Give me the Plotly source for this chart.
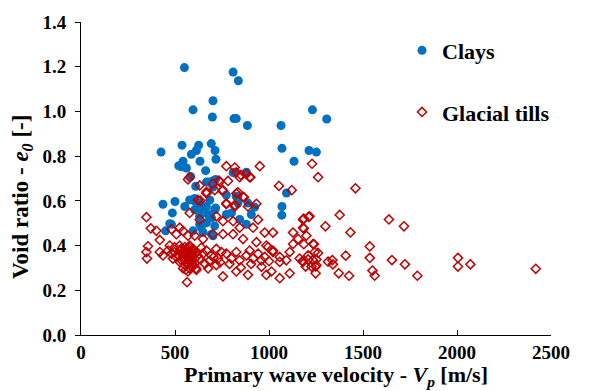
import plotly.graph_objects as go

# Clays: primary wave velocity [m/s] and void ratio [-]
clay_vp = [550, 809, 837, 702, 596, 699, 814, 826, 885, 1064, 1231, 1307,
           1213, 1252, 1069, 1133, 1093, 1069, 1068, 426, 537, 626, 614, 587,
           693, 713, 718, 633, 543, 520, 534, 561, 663, 583, 809, 878, 681,
           702, 716, 610, 773, 834, 888, 924, 436, 500, 552, 596, 614, 605,
           716, 486, 605, 667, 702, 631, 640, 667, 685, 481, 631, 667, 694,
           631, 676, 596, 640, 694, 472, 450, 578, 622, 649, 711, 711, 702,
           773, 800, 826, 844, 880, 906, 835, 818, 880]
clay_e = [1.196, 1.176, 1.137, 1.048, 1.007, 0.975, 0.968, 0.968, 0.937, 0.937,
          1.007, 0.966, 0.825, 0.818, 0.835, 0.777, 0.635, 0.575, 0.536, 0.818,
          0.849, 0.849, 0.825, 0.808, 0.856, 0.825, 0.786, 0.777, 0.777, 0.757,
          0.752, 0.747, 0.735, 0.709, 0.726, 0.726, 0.684, 0.689, 0.696, 0.665,
          0.626, 0.619, 0.590, 0.572, 0.585, 0.597, 0.575, 0.604, 0.590, 0.560,
          0.568, 0.546, 0.611, 0.684, 0.662, 0.590, 0.560, 0.575, 0.604, 0.495,
          0.495, 0.502, 0.524, 0.531, 0.539, 0.466, 0.480, 0.451, 0.498, 0.466,
          0.604, 0.560, 0.459, 0.560, 0.488, 0.444, 0.539, 0.546, 0.619, 0.517,
          0.495, 0.539, 0.590, 0.728, 0.728]

# Glacial tills: primary wave velocity [m/s] and void ratio [-]
till_vp = [1229, 1261, 1460, 1185, 1211, 1185, 1376, 1300, 1433, 1638, 1718,
           1185, 1239, 1536, 1243, 1261, 1408, 1536, 1178, 1208, 1252, 1314,
           1337, 1340, 1195, 1226, 1248, 1248, 1371, 1426, 1550, 1562, 1654,
           1723, 1789, 2005, 2005, 2071, 2419,
           569, 773, 951, 850, 901, 782, 734, 667, 711, 752, 835, 867, 819,
           773, 933, 1053, 1121, 635, 888,
           348, 371, 401, 419, 356, 348, 351, 419, 436, 463, 481, 498, 525,
           507, 543, 569, 525, 560, 578, 596, 552, 578, 605, 631, 614, 649,
           667, 693, 720, 747, 729, 773, 800, 826, 844, 880, 897, 915, 942,
           959, 977, 995, 1021, 1057, 1092, 1110, 1128, 1155, 1163, 1181,
           1208, 1234, 1252, 1216, 1181, 1181, 1199, 1234, 1128, 1057, 1013,
           1057, 1110, 986, 888, 826, 755, 720, 676, 614, 564,
           818, 826, 880, 897, 844, 578, 631, 702, 738, 667, 755, 826, 862,
           818, 622, 773, 578, 631, 720, 755, 809, 844, 942, 915, 977, 1021,
           525, 507, 481, 543, 569, 605, 649, 702, 755, 809, 862, 933, 986,
           1021, 498, 516, 543, 560, 578, 534, 569, 587, 552, 596, 525, 578,
           605, 543, 569, 587, 472, 489,
           540, 556, 572, 590, 548, 563, 585, 600, 532, 575, 592, 558, 612,
           620, 640, 660, 684, 705, 740, 790, 850, 905, 960, 1000]
till_e = [0.766, 0.706, 0.656, 0.521, 0.528, 0.476, 0.537, 0.486, 0.459, 0.517,
          0.486, 0.406, 0.406, 0.396, 0.371, 0.367, 0.355, 0.345, 0.331, 0.338,
          0.338, 0.328, 0.335, 0.316, 0.306, 0.306, 0.306, 0.276, 0.276, 0.265,
          0.288, 0.265, 0.335, 0.316, 0.265, 0.345, 0.306, 0.316, 0.296,
          0.696, 0.755, 0.755, 0.716, 0.706, 0.689, 0.691, 0.640, 0.648, 0.645,
          0.638, 0.616, 0.575, 0.585, 0.587, 0.667, 0.648, 0.601, 0.575,
          0.527, 0.477, 0.466, 0.425, 0.397, 0.371, 0.342, 0.371, 0.356, 0.378,
          0.364, 0.393, 0.378, 0.349, 0.371, 0.385, 0.327, 0.342, 0.327, 0.356,
          0.313, 0.298, 0.320, 0.342, 0.371, 0.364, 0.378, 0.356, 0.385, 0.371,
          0.342, 0.364, 0.342, 0.371, 0.334, 0.356, 0.378, 0.342, 0.364, 0.334,
          0.349, 0.393, 0.371, 0.349, 0.334, 0.371, 0.407, 0.429, 0.342, 0.327,
          0.356, 0.334, 0.313, 0.531, 0.516, 0.480, 0.444, 0.407, 0.458, 0.327,
          0.284, 0.254, 0.276, 0.269, 0.269, 0.284, 0.262, 0.313, 0.298, 0.291,
          0.236,
          0.749, 0.728, 0.720, 0.706, 0.706, 0.706, 0.669, 0.677, 0.684, 0.633,
          0.648, 0.633, 0.618, 0.582, 0.604, 0.589, 0.546, 0.516, 0.531, 0.509,
          0.509, 0.480, 0.516, 0.480, 0.458, 0.458,
          0.480, 0.451, 0.473, 0.465, 0.444, 0.444, 0.429, 0.451, 0.451, 0.451,
          0.429, 0.415, 0.400, 0.378, 0.371, 0.356, 0.349, 0.364, 0.349, 0.334,
          0.320, 0.342, 0.393, 0.385, 0.400, 0.400, 0.342, 0.298, 0.284, 0.305,
          0.400, 0.342,
          0.360, 0.375, 0.352, 0.366, 0.335, 0.318, 0.330, 0.310, 0.385, 0.392,
          0.378, 0.292, 0.298, 0.355, 0.390, 0.318, 0.332, 0.348, 0.325, 0.318,
          0.302, 0.318, 0.305, 0.330]

x_ticks = [0, 500, 1000, 1500, 2000, 2500]
y_ticks = [0.0, 0.2, 0.4, 0.6, 0.8, 1.0, 1.2, 1.4]

FONT = "Liberation Serif"

fig = go.Figure()
fig.add_trace(go.Scatter(
    x=clay_vp, y=clay_e, mode="markers", name="<b>Clays</b>",
    legendgroup="clays",
    marker=dict(symbol="circle", size=9, color="#0070C0",
                line=dict(width=0)),
))
fig.add_trace(go.Scatter(
    x=till_vp, y=till_e, mode="markers", name="<b>Glacial tills</b>",
    legendgroup="tills",
    marker=dict(symbol="diamond-open", size=7, color="#C00000",
                line=dict(width=1.5, color="#C00000")),
))

axis_common = dict(
    showgrid=False, zeroline=False, showline=True, linecolor="black",
    linewidth=1, ticklen=5, tickcolor="black",
    tickfont=dict(family=FONT, size=19, color="black"),
)

fig.update_xaxes(
    range=[0, 2500], tickvals=x_ticks, ticktext=[f"<b>{v}</b>" for v in x_ticks],
    ticks="inside", **axis_common,
)
fig.update_yaxes(
    range=[0, 1.4], tickvals=y_ticks,
    ticktext=[f"<b>{v:.1f}</b>" for v in y_ticks],
    ticks="outside", ticklabelstandoff=5, **axis_common,
)

# Axis titles, placed in pixel terms relative to the page
W, H = 601, 391
fig.add_annotation(
    text="<b>Primary wave velocity - <i>V<sub>p</sub></i> [m/s]</b>",
    xref="paper", yref="paper", x=(336 - 81) / 470, y=-(377 - 335) / 322,
    xanchor="center", yanchor="middle", showarrow=False,
    font=dict(family=FONT, size=22, color="black"),
)
fig.add_annotation(
    text="<b>Void ratio - <i>e<sub>0</sub></i> [-]</b>",
    xref="paper", yref="paper", x=-(81 - 22) / 470, y=(335 - 193) / 322,
    xanchor="center", yanchor="middle", showarrow=False, textangle=-90,
    font=dict(family=FONT, size=23, color="black"),
)

fig.update_layout(
    width=W, height=H,
    margin=dict(l=81, r=50, t=13, b=56),
    plot_bgcolor="white", paper_bgcolor="white",
    legend=dict(
        x=0.683, y=0.976, xanchor="left", yanchor="top",
        font=dict(family=FONT, size=22, color="black"),
        bgcolor="rgba(0,0,0,0)", traceorder="grouped", tracegroupgap=30,
        itemwidth=30,
    ),
)

fig.write_html("out.html")
